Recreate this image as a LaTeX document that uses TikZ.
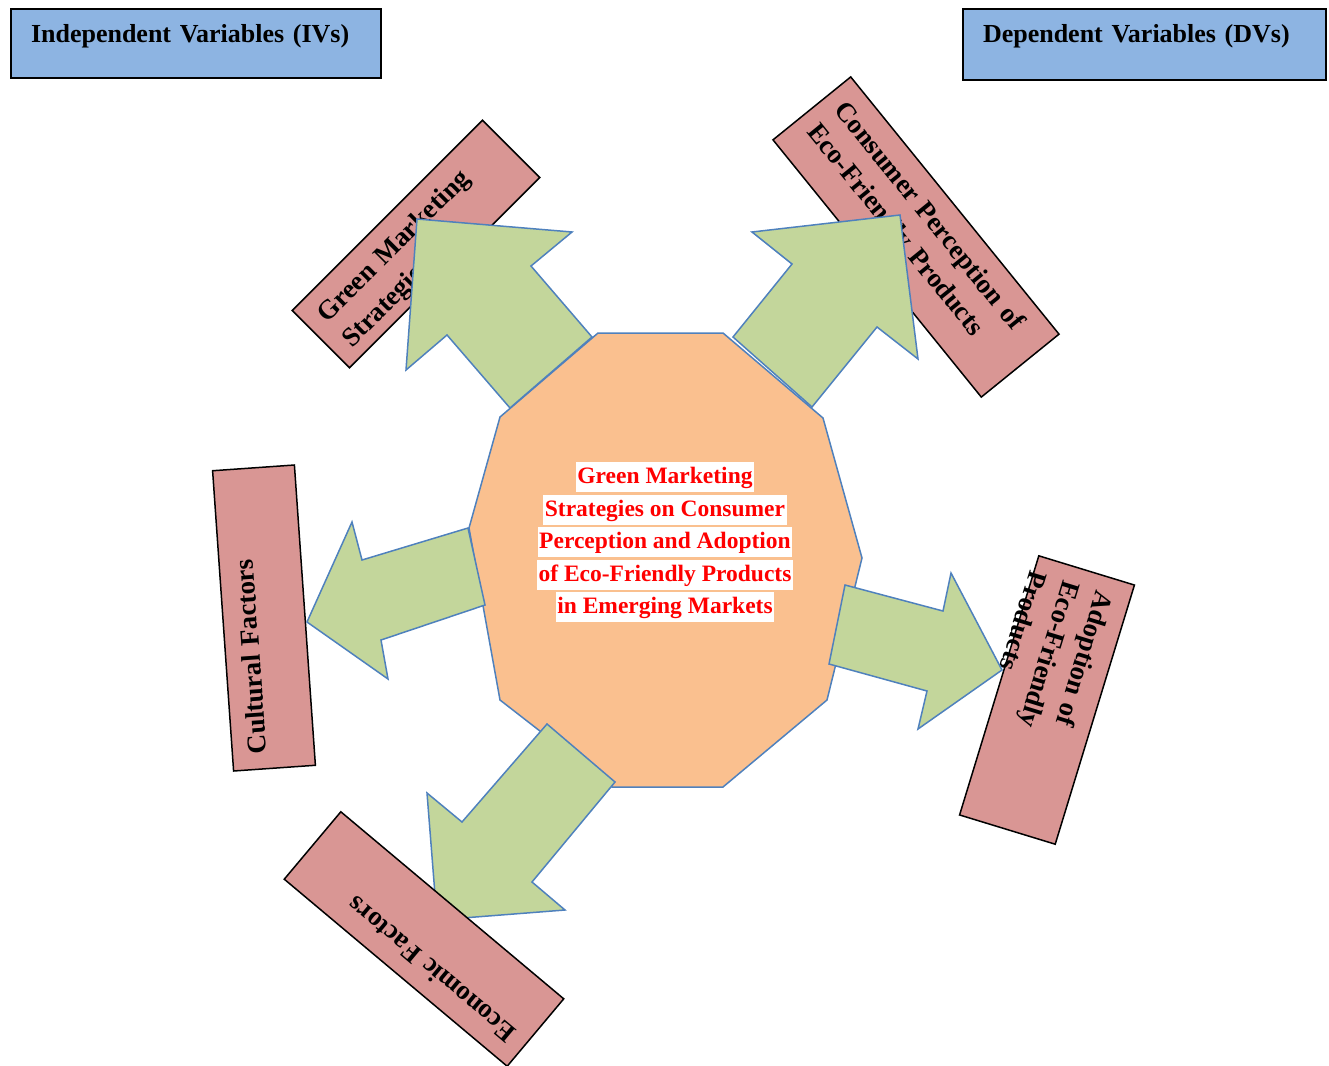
\documentclass[tikz,border=0pt]{standalone}
\usepackage{fontspec}
\setmainfont{Liberation Serif}

\definecolor{headblue}{HTML}{8DB4E2}
\definecolor{factorred}{HTML}{D99694}
\definecolor{arrowgreen}{HTML}{C3D69B}
\definecolor{edgeblue}{HTML}{4F81BD}
\definecolor{hubpeach}{HTML}{FAC08F}

\setlength{\fboxsep}{1.5pt}
\newcommand{\whitebar}[1]{\colorbox{white}{\rule[-7pt]{0pt}{27pt}#1}}

\begin{document}
\begin{tikzpicture}[x=1pt, y=-1pt]
  \tikzstyle{head_box} = [draw=black, line width=2pt, fill=headblue, anchor=north west, align=left, inner xsep=20pt, text height=18pt, text depth=21pt, font=\fontsize{26}{30}\selectfont\bfseries];
  \tikzstyle{factor_box} = [draw=black, line width=1.5pt, fill=factorred];
  \tikzstyle{factor_text} = [anchor=north west, align=left, inner xsep=16pt, inner ysep=16pt, font=\fontsize{27}{35}\selectfont\bfseries];
  \tikzstyle{block_arrow} = [draw=edgeblue, line width=1.5pt, fill=arrowgreen];
  \tikzstyle{hub} = [draw=edgeblue, line width=1.5pt, fill=hubpeach];
  \tikzstyle{hub_text} = [align=center, text=red, inner sep=0pt, font=\fontsize{23.5}{32.5}\selectfont\bfseries];

  \useasboundingbox (0, 0) rectangle (1329, 1065);

  \node[head_box, minimum width=370pt, minimum height=69pt, text width=330pt] (ivs) at (10, 8) {Independent Variables (IVs)};
  \node[head_box, minimum width=363pt, minimum height=71pt, text width=323pt] (dvs) at (962, 8) {Dependent Variables (DVs)};

  \node[factor_box, minimum width=269pt, minimum height=81pt, rotate=45] (gms) at (416, 244) {};
  \node[factor_text, text width=237pt, rotate=45] (gms_text) at (gms.north west) {Green Marketing\\Strategies};

  \node[factor_box, minimum width=331pt, minimum height=100pt, rotate=-51] (cpe) at (916, 237) {};
  \node[factor_text, text width=299pt, rotate=-51] (cpe_text) at (cpe.north west) {Consumer Perception of\\Eco-Friendly Products};

  \node[factor_box, minimum width=271pt, minimum height=100pt, rotate=-107] (afp) at (1047, 700) {};
  \node[factor_text, text width=239pt, rotate=-107] (afp_text) at (afp.north west) {Adoption of\\Eco-Friendly\\Products};

  \node[factor_box, minimum width=301pt, minimum height=82pt, rotate=94] (cf) at (264, 618) {};
  \node[factor_text, text width=269pt, rotate=94] (cf_text) at (cf.north west) {Cultural Factors};

  \draw[hub] (598, 333) -- (723, 333) -- (823, 418) -- (862, 558) -- (827, 700) -- (723, 787) -- (612, 787) -- (500, 700) -- (469, 528) -- (500, 417) -- cycle;

  \draw[block_arrow] (417, 219) -- (572, 232) -- (531, 266) -- (592, 337) -- (510, 408) -- (447, 335) -- (406, 370) -- cycle;
  \draw[block_arrow] (900, 215) -- (918, 359) -- (877, 327) -- (812, 407) -- (733, 337) -- (792, 264) -- (752, 232) -- cycle;
  \draw[block_arrow] (1002, 670) -- (918, 729) -- (927, 691) -- (829, 664) -- (845, 585) -- (943, 611) -- (951, 573) -- cycle;
  \draw[block_arrow] (307, 622) -- (352, 522) -- (362, 560) -- (468, 528) -- (485, 605) -- (381, 640) -- (388, 679) -- cycle;
  \draw[block_arrow] (437, 920) -- (427, 793) -- (462, 822) -- (547, 724) -- (615, 782) -- (532, 882) -- (565, 910) -- cycle;

  \node[factor_box, minimum width=291pt, minimum height=88pt, rotate=140] (ef) at (424, 939) {};
  \node[factor_text, text width=259pt, rotate=140] (ef_text) at (ef.north west) {Economic Factors};

  \node[hub_text] (core) at (665, 542) {\whitebar{Green Marketing}\\\whitebar{Strategies on Consumer}\\\whitebar{Perception and Adoption}\\\whitebar{of Eco-Friendly Products}\\\whitebar{in Emerging Markets}};
\end{tikzpicture}
\end{document}
